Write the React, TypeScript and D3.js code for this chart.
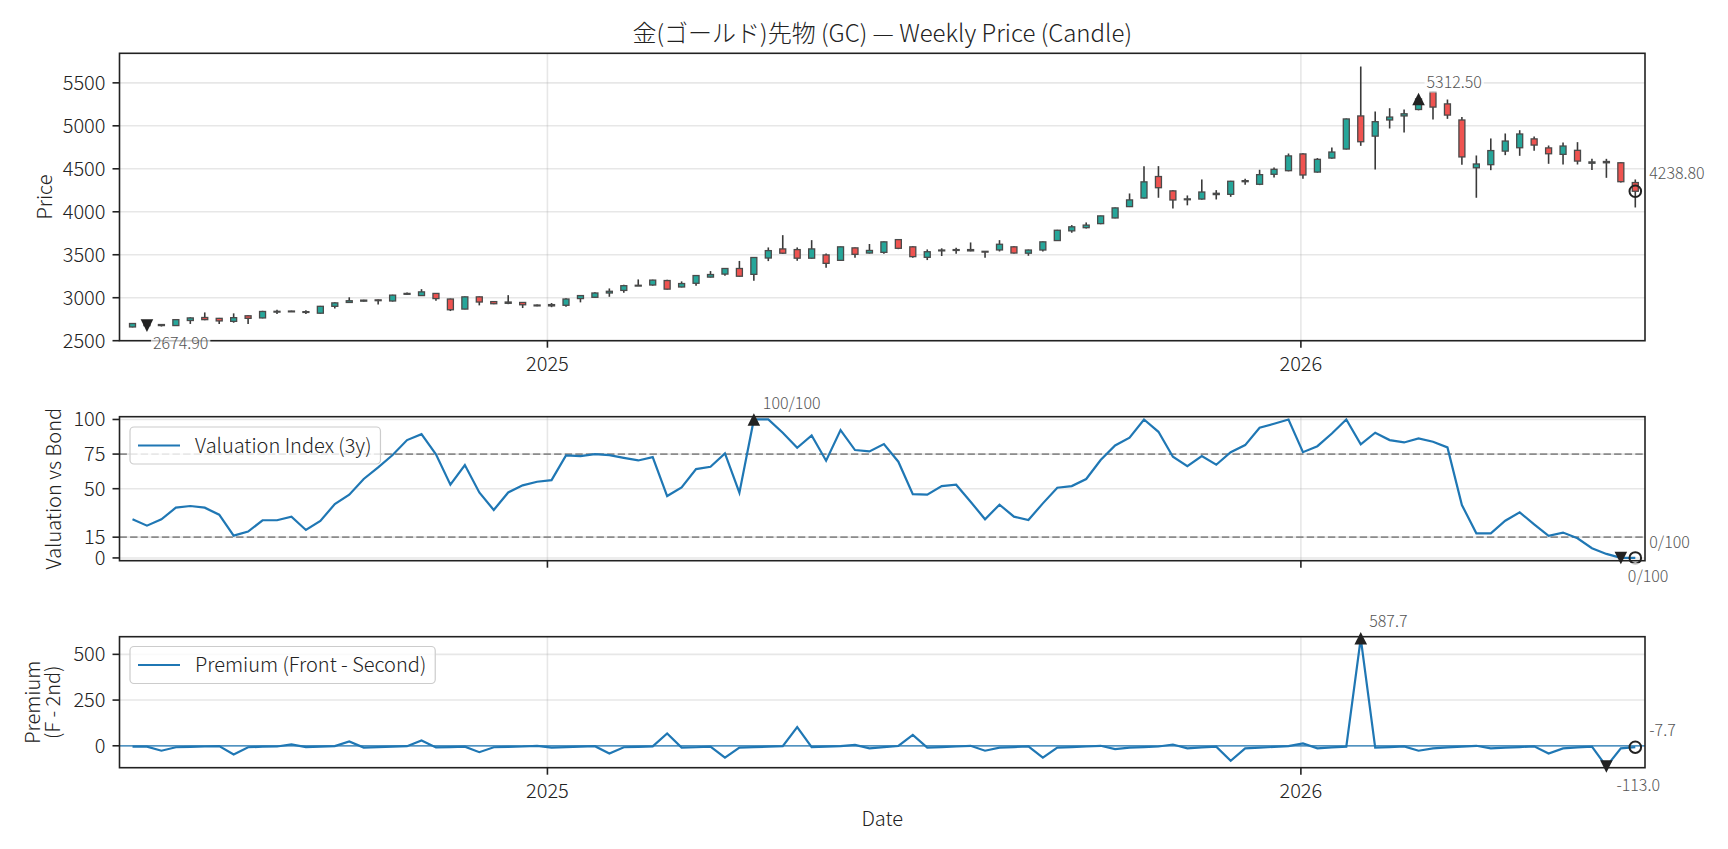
import React, { useRef, useEffect } from "react";
import * as d3 from "d3";

const DAY = 864e5;
const firstWeek = new Date(2024, 5, 14);

// weekly OHLC
const opens = [
  2660, 2690, 2676, 2676, 2735, 2770, 2760, 2725, 2790, 2765,
  2835, 2845, 2832, 2820, 2900, 2945, 2960, 2975, 2962, 3040,
  3025, 3050, 2985, 2868, 3010, 2955, 2935, 2945, 2915, 2905,
  2912, 2990, 3005, 3055, 3085, 3140, 3148, 3200, 3125, 3168,
  3240, 3275, 3340, 3272, 3462, 3568, 3560, 3460, 3498, 3435,
  3580, 3520, 3528, 3676, 3592, 3470, 3545, 3550, 3560, 3540,
  3556, 3592, 3518, 3555, 3665, 3778, 3815, 3862, 3928, 4060,
  4160, 4410, 4243, 4140, 4148, 4200, 4203, 4350, 4320, 4436,
  4478, 4673, 4462, 4625, 4730, 5115, 4880, 5068, 5115, 5190,
  5395, 5255, 5068, 4512, 4548, 4706, 4745, 4848, 4743, 4668,
  4715, 4565, 4585, 4570, 4340,
];
const highs = [
  2705, 2700, 2692, 2750, 2772, 2829, 2765, 2818, 2796, 2848,
  2860, 2850, 2855, 2905, 2948, 3005, 2976, 2980, 3035, 3060,
  3100, 3055, 2990, 3015, 3015, 2960, 3030, 2948, 2920, 2938,
  2995, 3030, 3065, 3108, 3150, 3213, 3210, 3210, 3190, 3262,
  3310, 3345, 3428, 3472, 3585, 3728, 3585, 3670, 3515, 3595,
  3585, 3625, 3655, 3680, 3600, 3562, 3575, 3582, 3643, 3545,
  3670, 3598, 3560, 3655, 3790, 3845, 3876, 3955, 4050, 4213,
  4531, 4531, 4250, 4190, 4376, 4252, 4360, 4384, 4489, 4516,
  4678, 4680, 4625, 4748, 5085, 5690, 5167, 5205, 5190, 5320,
  5400, 5306, 5104, 4655, 4853, 4911, 4949, 4876, 4771, 4806,
  4810, 4616, 4616, 4575, 4376,
];
const lows = [
  2655, 2660, 2665, 2672, 2695, 2738, 2694, 2709, 2694, 2760,
  2810, 2835, 2810, 2815, 2875, 2940, 2955, 2920, 2955, 3035,
  3025, 2965, 2845, 2865, 2911, 2925, 2925, 2880, 2900, 2890,
  2895, 2946, 3000, 3011, 3058, 3138, 3140, 3095, 3120, 3140,
  3235, 3255, 3245, 3198, 3426, 3510, 3430, 3455, 3350, 3430,
  3465, 3515, 3512, 3565, 3465, 3438, 3485, 3512, 3540, 3465,
  3538, 3515, 3488, 3538, 3660, 3756, 3805, 3855, 3925, 4055,
  4155, 4163, 4039, 4075, 4140, 4143, 4174, 4314, 4310, 4400,
  4470, 4384, 4455, 4618, 4725, 4767, 4492, 4969, 4923, 5180,
  5074, 5081, 4546, 4163, 4484, 4659, 4651, 4709, 4558, 4550,
  4550, 4485, 4395, 4340, 4050,
];
const closes = [
  2700, 2674.9, 2688, 2745, 2765, 2745, 2730, 2768, 2760, 2840,
  2842, 2838, 2838, 2900, 2940, 2965, 2972, 2970, 3030, 3050,
  3068, 2990, 2860, 3010, 2950, 2930, 2950, 2918, 2905, 2920,
  2985, 3025, 3055, 3075, 3140, 3145, 3205, 3100, 3165, 3258,
  3270, 3340, 3250, 3468, 3548, 3518, 3460, 3568, 3400, 3592,
  3505, 3550, 3650, 3575, 3478, 3535, 3555, 3560, 3545, 3535,
  3622, 3520, 3555, 3650, 3785, 3825, 3845, 3952, 4045, 4138,
  4348, 4280, 4137, 4150, 4230, 4215, 4355, 4362, 4432, 4494,
  4650, 4428, 4610, 4695, 5080, 4815, 5048, 5102, 5140, 5312.5,
  5218, 5125, 4638, 4556, 4712, 4823, 4905, 4776, 4675, 4765,
  4590, 4580, 4570, 4350, 4238.8,
];

// valuation index vs bond (0-100)
const valuation = [
  27.9, 23.3, 27.9, 36.3, 37.5, 36.3, 31.2, 16.1, 19.0, 27.2,
  27.2, 29.8, 20.2, 26.7, 38.9, 45.7, 57.0, 65.4, 74.3, 85.1,
  89.4, 74.8, 52.9, 67.1, 47.3, 34.6, 47.3, 52.4, 55.0, 56.2,
  74.0, 73.5, 74.9, 74.3, 72.3, 70.4, 72.8, 44.7, 50.9, 64.2,
  65.8, 75.5, 47.1, 100, 100, 90.4, 79.5, 88.4, 70.2, 92.3,
  77.9, 76.9, 82.2, 69.5, 46.1, 45.7, 51.9, 52.9, 40.6, 27.9,
  38.5, 29.8, 27.4, 39.4, 50.7, 51.9, 57.0, 70.7, 81.2, 86.8,
  100, 91.1, 73.1, 66.3, 73.5, 67.3, 76.4, 81.5, 94.0, 96.9,
  100, 76.4, 80.7, 89.9, 100, 82.0, 90.4, 85.1, 83.4, 86.3,
  83.9, 79.8, 38.2, 17.8, 17.8, 26.9, 32.9, 24.3, 15.9, 18.3,
  14.2, 7.0, 2.9, 0, 0,
];

// front - second month premium
const premium = [
  -5, -5, -27, -8, -6, -4, -2, -47, -8, -5,
  -4, 8, -7, -5, -2, 24, -10, -7, -5, -2,
  29, -9, -7, -5, -35, -8, -6, -4, 0, -10,
  -7, -5, -2, -42, -8, -6, -3, 67, -10, -8,
  -5, -65, -10, -7, -5, -2, 102, -7, -5, -2,
  5, -14, -7, -1, 60, -10, -7, -4, 0, -27,
  -10, -7, -3, -65, -10, -7, -4, 0, -18, -10,
  -7, -4, 7, -14, -9, -5, -82, -14, -10, -6,
  -2, 13, -14, -9, -5, 587.7, -10, -7, -3, -27,
  -14, -9, -5, 0, -14, -10, -7, -3, -42, -14,
  -9, -5, -113, -14, -7.7,
];

const priceTicks = [2500, 3000, 3500, 4000, 4500, 5000, 5500];
const valuationTicks = [0, 15, 50, 75, 100];
const valuationBands = [15, 75];
const premiumTicks = [0, 250, 500];
const yearTicks = [new Date(2025, 0, 1), new Date(2026, 0, 1)];
const yearLabels = ["2025", "2026"];

const App = () => {
  const chartRef = useRef<HTMLDivElement>(null);

  useEffect(() => {
    const width = 1728;
    const height = 849;
    const left = 119.5;
    const right = 1645;
    const font = "'Noto Sans CJK JP', 'Noto Sans', sans-serif";
    const ink = "#222";

    const root = d3.select(chartRef.current);
    root.selectAll("*").remove();

    const svg = root
      .append("svg")
      .attr("width", width)
      .attr("height", height)
      .style("position", "absolute")
      .style("left", "0px")
      .style("top", "0px")
      .style("font-family", font)
      .style("font-weight", 300);

    svg.append("rect").attr("width", width).attr("height", height).attr("fill", "#fff");

    const dates = closes.map((_, i) => new Date(firstWeek.getTime() + i * 7 * DAY));
    const xScale = d3
      .scaleTime()
      .domain([
        new Date(dates[0].getTime() - 6.3 * DAY),
        new Date(dates[dates.length - 1].getTime() + 4.7 * DAY),
      ])
      .range([left, right]);

    // grid for one panel, returns its y scale
    const addPanel = (top: number, bottom: number, domain: number[], ticks: number[]) => {
      const yScale = d3.scaleLinear().domain(domain).range([bottom, top]);
      const g = svg.append("g");
      g.selectAll(null)
        .data(ticks)
        .enter()
        .append("line")
        .attr("x1", left)
        .attr("x2", right)
        .attr("y1", (d) => yScale(d))
        .attr("y2", (d) => yScale(d))
        .attr("stroke", "#b0b0b0")
        .attr("stroke-opacity", 0.3)
        .attr("stroke-width", 1.6);
      g.selectAll(null)
        .data(yearTicks)
        .enter()
        .append("line")
        .attr("x1", (d) => xScale(d))
        .attr("x2", (d) => xScale(d))
        .attr("y1", top)
        .attr("y2", bottom)
        .attr("stroke", "#b0b0b0")
        .attr("stroke-opacity", 0.3)
        .attr("stroke-width", 1.6);
      return { yScale, top, bottom, ticks };
    };

    // spines, ticks and axis labels on top of the data
    const finishPanel = (p: any, showYears: boolean, label: string[], labelX: number[]) => {
      svg.append("rect")
        .attr("x", left)
        .attr("y", p.top)
        .attr("width", right - left)
        .attr("height", p.bottom - p.top)
        .attr("fill", "none")
        .attr("stroke", ink)
        .attr("stroke-width", 1.6);

      p.ticks.forEach((t: number) => {
        const yy = p.yScale(t);
        svg.append("line")
          .attr("x1", left - 7).attr("x2", left)
          .attr("y1", yy).attr("y2", yy)
          .attr("stroke", ink).attr("stroke-width", 1.6);
        svg.append("text")
          .attr("x", left - 14)
          .attr("y", yy)
          .attr("dy", "0.35em")
          .attr("text-anchor", "end")
          .attr("font-size", 20)
          .attr("fill", ink)
          .text(t);
      });

      yearTicks.forEach((d, k) => {
        const xx = xScale(d);
        svg.append("line")
          .attr("x1", xx).attr("x2", xx)
          .attr("y1", p.bottom).attr("y2", p.bottom + 7)
          .attr("stroke", ink).attr("stroke-width", 1.6);
        if (showYears) {
          svg.append("text")
            .attr("x", xx)
            .attr("y", p.bottom + 23)
            .attr("dy", "0.35em")
            .attr("text-anchor", "middle")
            .attr("font-size", 20)
            .attr("fill", ink)
            .text(yearLabels[k]);
        }
      });

      const cy = (p.top + p.bottom) / 2;
      label.forEach((line, k) => {
        svg.append("text")
          .attr("transform", `translate(${labelX[k]},${cy}) rotate(-90)`)
          .attr("dy", "0.35em")
          .attr("text-anchor", "middle")
          .attr("font-size", 20)
          .attr("fill", ink)
          .text(line);
      });
    };

    const marker = (cx: number, cy: number, kind: string) => {
      const h = 6.3;
      if (kind === "circle") {
        svg.append("circle")
          .attr("cx", cx).attr("cy", cy).attr("r", 5.8)
          .attr("fill", "none").attr("stroke", ink).attr("stroke-width", 2);
        return;
      }
      const d = kind === "up"
        ? `M${cx},${cy - h}L${cx + h},${cy + h}L${cx - h},${cy + h}Z`
        : `M${cx},${cy + h}L${cx + h},${cy - h}L${cx - h},${cy - h}Z`;
      svg.append("path").attr("d", d).attr("fill", ink);
    };

    const note = (x: number, y: number, text: string) => {
      const t = svg.append("text")
        .attr("x", x)
        .attr("y", y)
        .attr("dy", "0.35em")
        .attr("font-size", 16)
        .attr("fill", "#555")
        .text(text);
      const b = (t.node() as SVGTextElement).getBBox();
      svg.insert("rect", () => t.node())
        .attr("x", b.x - 2)
        .attr("y", b.y)
        .attr("width", b.width + 4)
        .attr("height", b.height)
        .attr("fill", "#fff")
        .attr("fill-opacity", 0.7);
    };

    const legend = (top: number, text: string) => {
      const g = svg.append("g");
      const box = g.append("rect")
        .attr("x", 130).attr("y", top)
        .attr("height", 37).attr("rx", 4)
        .attr("fill", "#fff").attr("fill-opacity", 0.8)
        .attr("stroke", "#ccc").attr("stroke-width", 1.2);
      g.append("line")
        .attr("x1", 138).attr("x2", 180)
        .attr("y1", top + 18.5).attr("y2", top + 18.5)
        .attr("stroke", "#1f77b4").attr("stroke-width", 2.2);
      const t = g.append("text")
        .attr("x", 195)
        .attr("y", top + 18.5)
        .attr("dy", "0.35em")
        .attr("font-size", 20)
        .attr("fill", ink)
        .text(text);
      const w = (t.node() as SVGTextElement).getComputedTextLength();
      box.attr("width", 195 + w + 9 - 130);
    };

    const xAt = (i: number) => xScale(dates[i]);

    // title
    svg.append("text")
      .attr("x", (left + right) / 2)
      .attr("y", 34)
      .attr("dy", "0.35em")
      .attr("text-anchor", "middle")
      .attr("font-size", 24)
      .attr("fill", ink)
      .text("金(ゴールド)先物 (GC) — Weekly Price (Candle)");

    // price candles
    const price = addPanel(53.3, 340.7, [2500, 5843.75], priceTicks);
    const bodyW = 6;
    const candles = svg.append("g");
    closes.forEach((c, i) => {
      const o = opens[i];
      const xx = xAt(i);
      candles.append("line")
        .attr("x1", xx).attr("x2", xx)
        .attr("y1", price.yScale(highs[i]))
        .attr("y2", price.yScale(lows[i]))
        .attr("stroke", "#3a3a3a")
        .attr("stroke-width", 1.6);
      const yTop = price.yScale(Math.max(o, c));
      const yBot = price.yScale(Math.min(o, c));
      candles.append("rect")
        .attr("x", xx - bodyW / 2)
        .attr("y", yTop)
        .attr("width", bodyW)
        .attr("height", Math.max(yBot - yTop, 0.8))
        .attr("fill", c >= o ? "#26a69a" : "#ef5350")
        .attr("stroke", "#4a4a4a")
        .attr("stroke-width", 1.3);
    });
    finishPanel(price, true, ["Price"], [45]);

    const last = closes.length - 1;
    const pMax = d3.maxIndex(closes);
    const pMin = d3.minIndex(closes);
    marker(xAt(pMin), price.yScale(closes[pMin]), "down");
    marker(xAt(pMax), price.yScale(closes[pMax]), "up");
    marker(xAt(last), price.yScale(closes[last]), "circle");
    note(xAt(pMin) + 6, price.yScale(closes[pMin]) + 17.5, closes[pMin].toFixed(2));
    note(xAt(pMax) + 8, price.yScale(closes[pMax]) - 17, closes[pMax].toFixed(2));
    note(xAt(last) + 14, price.yScale(closes[last]) - 18, closes[last].toFixed(2));

    // valuation index
    const val = addPanel(416.7, 560.7, [-2, 102], valuationTicks);
    svg.append("g")
      .selectAll(null)
      .data(valuationBands)
      .enter()
      .append("line")
      .attr("x1", left).attr("x2", right)
      .attr("y1", (d) => val.yScale(d))
      .attr("y2", (d) => val.yScale(d))
      .attr("stroke", "#8c8c8c")
      .attr("stroke-width", 1.6)
      .attr("stroke-dasharray", "7.4,3.2");
    const valLine = d3.line<number>()
      .x((_, i) => xAt(i))
      .y((d) => val.yScale(d));
    svg.append("path")
      .attr("d", valLine(valuation))
      .attr("fill", "none")
      .attr("stroke", "#1f77b4")
      .attr("stroke-width", 2.2);
    legend(427, "Valuation Index (3y)");
    finishPanel(val, false, ["Valuation vs Bond"], [54]);

    const vMax = d3.maxIndex(valuation);
    const vMin = d3.minIndex(valuation);
    marker(xAt(vMax), val.yScale(valuation[vMax]), "up");
    marker(xAt(vMin), val.yScale(valuation[vMin]), "down");
    marker(xAt(last), val.yScale(valuation[last]), "circle");
    note(xAt(vMax) + 9, val.yScale(valuation[vMax]) - 16, `${valuation[vMax].toFixed(0)}/100`);
    note(xAt(vMin) + 7, val.yScale(valuation[vMin]) + 18.5, `${valuation[vMin].toFixed(0)}/100`);
    note(xAt(last) + 14, val.yScale(valuation[last]) - 16, `${valuation[last].toFixed(0)}/100`);

    // premium
    const prem = addPanel(636.7, 767.7, [-119.8, 596.5], premiumTicks);
    svg.append("line")
      .attr("x1", left).attr("x2", right)
      .attr("y1", prem.yScale(0)).attr("y2", prem.yScale(0))
      .attr("stroke", "#1f77b4")
      .attr("stroke-width", 1.3);
    const premLine = d3.line<number>()
      .x((_, i) => xAt(i))
      .y((d) => prem.yScale(d));
    svg.append("path")
      .attr("d", premLine(premium))
      .attr("fill", "none")
      .attr("stroke", "#1f77b4")
      .attr("stroke-width", 2.2);
    legend(646.5, "Premium (Front - Second)");
    finishPanel(prem, true, ["Premium", "(F - 2nd)"], [33, 53]);

    const qMax = d3.maxIndex(premium);
    const qMin = d3.minIndex(premium);
    marker(xAt(qMax), prem.yScale(premium[qMax]), "up");
    marker(xAt(qMin), prem.yScale(premium[qMin]), "down");
    marker(xAt(last), prem.yScale(premium[last]), "circle");
    note(xAt(qMax) + 8.5, prem.yScale(premium[qMax]) - 16.5, premium[qMax].toFixed(1));
    note(xAt(qMin) + 10, prem.yScale(premium[qMin]) + 18.5, premium[qMin].toFixed(1));
    note(xAt(last) + 14, prem.yScale(premium[last]) - 17, premium[last].toFixed(1));

    svg.append("text")
      .attr("x", (left + right) / 2)
      .attr("y", 818.5)
      .attr("dy", "0.35em")
      .attr("text-anchor", "middle")
      .attr("font-size", 20)
      .attr("fill", ink)
      .text("Date");

    return () => {
      root.selectAll("*").remove();
    };
  }, []);

  return <div ref={chartRef}></div>;
};

export default App;
